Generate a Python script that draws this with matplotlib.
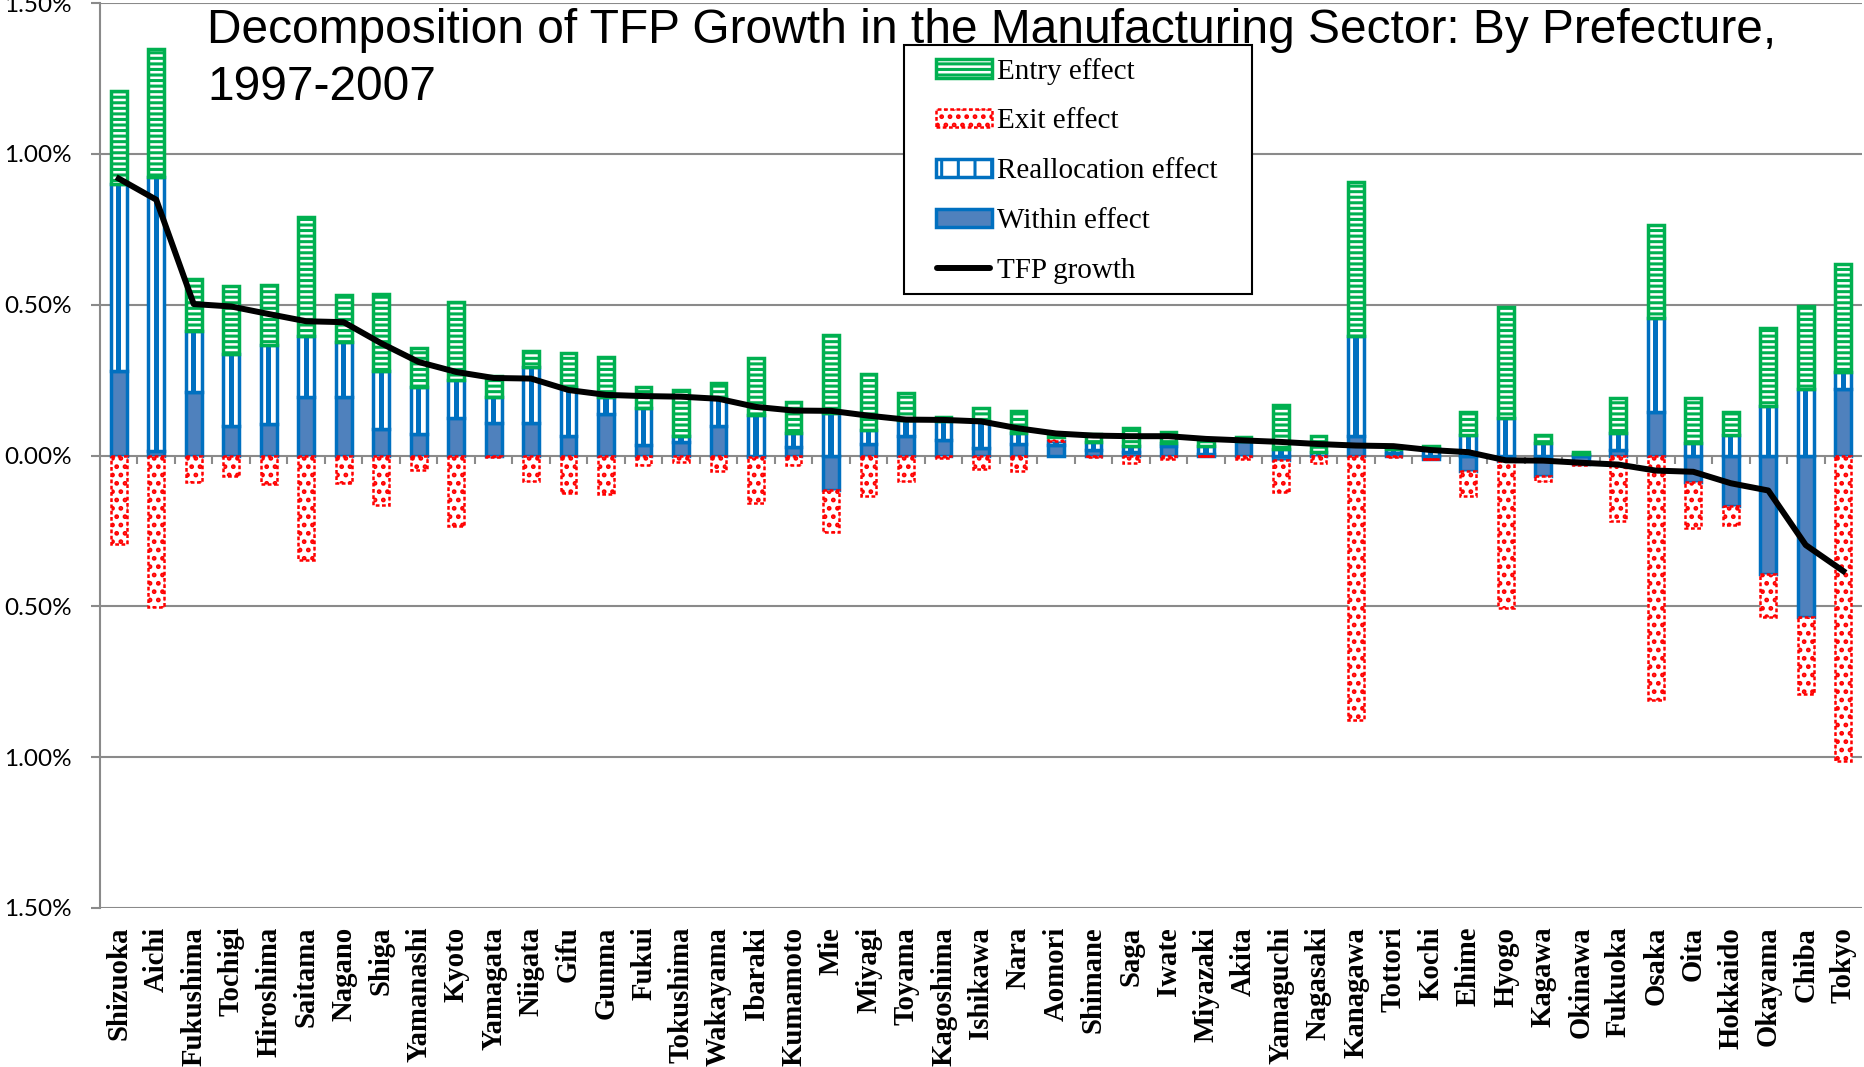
import matplotlib.pyplot as plt
import numpy as np
from matplotlib.legend_handler import HandlerLine2D, HandlerPatch
from matplotlib.lines import Line2D
from matplotlib.patches import Patch, Rectangle
from matplotlib.ticker import FuncFormatter

# TFP growth decomposition by prefecture, 1997-2007 (annual, %)
prefectures = ['Shizuoka', 'Aichi', 'Fukushima', 'Tochigi', 'Hiroshima', 'Saitama', 'Nagano', 'Shiga',
               'Yamanashi', 'Kyoto', 'Yamagata', 'Niigata', 'Gifu', 'Gunma', 'Fukui', 'Tokushima',
               'Wakayama', 'Ibaraki', 'Kumamoto', 'Mie', 'Miyagi', 'Toyama', 'Kagoshima', 'Ishikawa',
               'Nara', 'Aomori', 'Shimane', 'Saga', 'Iwate', 'Miyazaki', 'Akita', 'Yamaguchi',
               'Nagasaki', 'Kanagawa', 'Tottori', 'Kochi', 'Ehime', 'Hyogo', 'Kagawa', 'Okinawa',
               'Fukuoka', 'Osaka', 'Oita', 'Hokkaido', 'Okayama', 'Chiba', 'Tokyo']

within = [0.279, 0.015, 0.211, 0.098, 0.104, 0.195, 0.193, 0.088, 0.072, 0.124, 0.109, 0.109,
          0.065, 0.137, 0.035, 0.046, 0.098, -0.005, 0.028, -0.116, 0.039, 0.065, 0.052, 0.024,
          0.038, 0.035, 0.019, 0.013, 0.030, 0.005, 0.048, -0.016, 0.000, 0.063, 0.008, -0.010,
          -0.052, -0.017, -0.067, -0.028, 0.019, 0.143, -0.088, -0.168, -0.393, -0.537, 0.219]

realloc = [0.620, 0.909, 0.203, 0.239, 0.261, 0.201, 0.184, 0.191, 0.155, 0.127, 0.086, 0.186,
           0.163, 0.058, 0.122, 0.017, 0.097, 0.135, 0.046, 0.140, 0.046, 0.053, 0.061, 0.089,
           0.036, 0.012, 0.027, 0.019, 0.012, 0.028, 0.000, 0.021, 0.010, 0.332, 0.012, 0.025,
           0.069, 0.125, 0.043, 0.005, 0.057, 0.313, 0.043, 0.069, 0.165, 0.219, 0.057]

exit_eff = [-0.295, -0.501, -0.087, -0.068, -0.096, -0.348, -0.092, -0.163, -0.047, -0.235, -0.006,
            -0.086, -0.123, -0.127, -0.031, -0.020, -0.050, -0.153, -0.031, -0.136, -0.134, -0.086,
            -0.009, -0.045, -0.053, 0.014, -0.006, -0.025, -0.012, -0.003, -0.012, -0.106, -0.025,
            -0.876, -0.005, -0.002, -0.081, -0.490, -0.017, -0.005, -0.217, -0.811, -0.153, -0.063,
            -0.144, -0.254, -1.013]

entry = [0.310, 0.424, 0.172, 0.224, 0.199, 0.396, 0.156, 0.258, 0.129, 0.259, 0.070, 0.050,
         0.113, 0.133, 0.069, 0.154, 0.045, 0.187, 0.105, 0.260, 0.184, 0.088, 0.016, 0.044,
         0.072, 0.010, 0.025, 0.058, 0.037, 0.020, 0.012, 0.147, 0.056, 0.513, 0.010, 0.005,
         0.075, 0.368, 0.026, 0.008, 0.113, 0.309, 0.146, 0.074, 0.258, 0.277, 0.360]

tfp = [0.918, 0.848, 0.502, 0.494, 0.469, 0.445, 0.442, 0.372, 0.310, 0.277, 0.257, 0.255,
       0.217, 0.201, 0.197, 0.195, 0.188, 0.161, 0.149, 0.148, 0.132, 0.119, 0.118, 0.113,
       0.090, 0.073, 0.066, 0.064, 0.064, 0.055, 0.050, 0.045, 0.038, 0.033, 0.031, 0.018,
       0.011, -0.016, -0.017, -0.024, -0.030, -0.050, -0.054, -0.092, -0.116, -0.297, -0.383]

BLUE = '#0070C0'
GREEN = '#00B050'
RED = '#FF0000'
GRID = '#8A8A8A'

plt.rcParams['hatch.linewidth'] = 2.2

styles = {
    'Within effect': dict(facecolor='#4F81BD', edgecolor=BLUE, linewidth=2.5),
    'Reallocation effect': dict(facecolor='white', edgecolor=BLUE, linewidth=2.5),
    'Exit effect': dict(facecolor='white', edgecolor=RED, linewidth=1.8, hatch='..',
                        linestyle=(0, (1.5, 1.0))),
    'Entry effect': dict(facecolor='white', edgecolor=GREEN, linewidth=2.5, hatch='---'),
}

fig = plt.figure(figsize=(18.64, 10.67), dpi=100)
ax = fig.add_axes([100 / 1864, 1 - 908 / 1067, 1762 / 1864, 905 / 1067])

x = np.arange(len(prefectures))
width = 0.42
pos_base = np.zeros(len(x))
neg_base = np.zeros(len(x))
for name, vals in [('Within effect', within), ('Reallocation effect', realloc),
                   ('Exit effect', exit_eff), ('Entry effect', entry)]:
    v = np.array(vals)
    bottom = np.where(v >= 0, pos_base, neg_base)
    ax.bar(x, v, width, bottom=bottom, zorder=3, **styles[name])
    if name == 'Reallocation effect':
        # the vertical stripe running down the middle of each reallocation block
        ax.bar(x, v, 0.14, bottom=bottom, color=BLUE, linewidth=0, zorder=3)
    pos_base += np.clip(v, 0, None)
    neg_base += np.clip(v, None, 0)

ax.plot(x, tfp, color='black', linewidth=4.3, zorder=5, solid_joinstyle='round')

ax.set_xlim(-0.5, len(x) - 0.5)
ax.set_ylim(-1.5, 1.5)
ax.set_yticks(np.arange(-1.5, 1.51, 0.5))
ax.yaxis.set_major_formatter(FuncFormatter(lambda v, p: f'{abs(v):.2f}%'))
ax.grid(axis='y', color=GRID, linewidth=1.5, zorder=0)
ax.set_axisbelow(True)

# small category separators hanging off the zero line
ax.vlines(x[1:] - 0.5, -0.027, 0, color=GRID, linewidth=1.5, zorder=2)

for side in ['top', 'right', 'bottom']:
    ax.spines[side].set_visible(False)
ax.spines['left'].set_color(GRID)
ax.spines['left'].set_linewidth(1.5)

ax.tick_params(axis='y', length=6.7, width=1.5, color=GRID, pad=13.5, labelsize=17.5)
for lab in ax.get_yticklabels():
    lab.set_fontfamily('Lato')

ax.set_xticks(x)
ax.set_xticklabels(prefectures, rotation=90, fontfamily='Liberation Serif',
                   fontweight='bold', fontsize=20.7, va='top', ha='center')
ax.tick_params(axis='x', length=0, pad=13.5)

fig.text(207 / 1864, 1 - 8 / 1067,
         'Decomposition of TFP Growth in the Manufacturing Sector: By Prefecture,\n1997-2007',
         fontsize=34.5, fontfamily='Liberation Sans', va='top', ha='left', linespacing=1.35)


# legend keys sit a little in from the frame edge
def offset_rect(legend, orig_handle, xdescent, ydescent, width, height, fontsize):
    off = 0.58 * fontsize
    return Rectangle((-xdescent + off, -ydescent), width - off, height)


class OffsetLine(HandlerLine2D):
    def get_xdata(self, legend, xdescent, ydescent, width, height, fontsize):
        xd = np.array([-xdescent + 0.62 * fontsize, -xdescent + width - 0.05 * fontsize])
        return xd, xd


# legend box drawn separately so it can be wider than its entries
ax.add_patch(Rectangle((904 / 1864, 1 - 294 / 1067), 348 / 1864, 249 / 1067,
                       transform=fig.transFigure, facecolor='white', edgecolor='black',
                       linewidth=1.5, zorder=9, clip_on=False))

handles = [
    Patch(label='Entry effect', **styles['Entry effect']),
    Patch(label='Exit effect', **styles['Exit effect']),
    Patch(label='Reallocation effect', facecolor='white', edgecolor=BLUE, linewidth=2.5, hatch='|'),
    Patch(label='Within effect', **styles['Within effect']),
    Line2D([], [], color='black', linewidth=4.3, solid_capstyle='round', label='TFP growth'),
]
leg = ax.legend(handles=handles, loc='upper left', bbox_to_anchor=(904 / 1864, 1 - 43 / 1067),
                bbox_transform=fig.transFigure, borderaxespad=0, frameon=False,
                prop={'family': 'Liberation Serif', 'size': 21},
                handlelength=2.5, handleheight=0.6, handletextpad=0.2, labelspacing=0.82,
                borderpad=0.5,
                handler_map={Patch: HandlerPatch(patch_func=offset_rect), Line2D: OffsetLine()})
leg.set_zorder(10)

fig.savefig('out.png', dpi=100)
